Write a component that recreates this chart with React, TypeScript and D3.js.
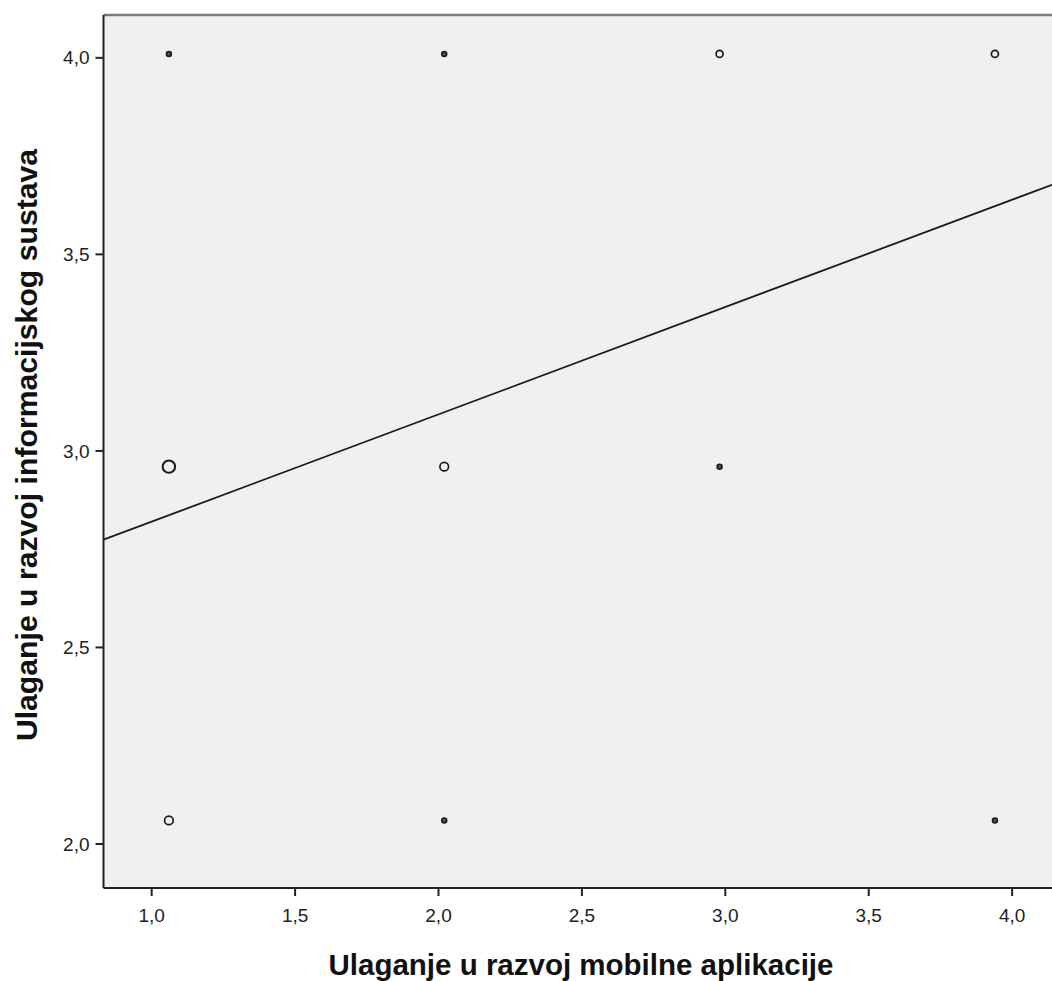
import React from "react";
import * as d3 from "d3";

const xTicks = [1.0, 1.5, 2.0, 2.5, 3.0, 3.5, 4.0];
const yTicks = [2.0, 2.5, 3.0, 3.5, 4.0];
const pointX = [1.06, 2.02, 2.98, 3.94, 1.06, 2.02, 2.98, 1.06, 2.02, 3.94];
const pointY = [4.01, 4.01, 4.01, 4.01, 2.96, 2.96, 2.96, 2.06, 2.06, 2.06];
const pointCount = [1, 1, 2, 2, 6, 3, 1, 3, 1, 1];
const fitIntercept = 2.547;
const fitSlope = 0.273;
const xTitle = "Ulaganje u razvoj mobilne aplikacije";
const yTitle = "Ulaganje u razvoj informacijskog sustava";

const W = 1052;
const H = 981;
const left = 103.5;
const right = 1052;
const top = 15;
const bottom = 888;

export default function App() {
  const x = d3.scaleLinear().domain([0.832, 4.139]).range([left, right]);
  const y = d3.scaleLinear().domain([1.888, 4.109]).range([bottom, top]);
  const r = d3.scaleSqrt().domain([1, 6]).range([2.4, 6.2]);
  const fmt = (v: number) => v.toFixed(1).replace(".", ",");
  const lineGen = d3.line<number>().x((d) => x(d)).y((d) => y(fitIntercept + fitSlope * d));
  const font = "'Liberation Sans', Arial, sans-serif";
  return (
    <svg width={W} height={H} style={{ position: "absolute", left: 0, top: 0, background: "#fff" }}>
      <rect x={left} y={top} width={right - left} height={bottom - top} fill="#f0f0f0" />
      <line x1={left} x2={right} y1={top} y2={top} stroke="#7a7a7a" strokeWidth={2.5} />
      <path d={lineGen(x.domain()) || ""} stroke="#1a1a1a" strokeWidth={1.8} fill="none" />
      {pointX.map((px, i) => {
        const rad = r(pointCount[i]);
        return (
          <circle
            key={i}
            cx={x(px)}
            cy={y(pointY[i])}
            r={rad}
            fill={pointCount[i] === 1 ? "#555" : "none"}
            stroke="#1a1a1a"
            strokeWidth={pointCount[i] === 6 ? 2 : 1.7}
          />
        );
      })}
      <line x1={left} x2={left} y1={top} y2={bottom} stroke="#222" strokeWidth={2} />
      <line x1={left} x2={right} y1={bottom} y2={bottom} stroke="#222" strokeWidth={2} />
      {yTicks.map((t) => (
        <g key={"y" + t}>
          <line x1={left - 8} x2={left} y1={y(t)} y2={y(t)} stroke="#222" strokeWidth={2} />
          <text x={left - 14} y={y(t)} dy="0.35em" textAnchor="end" fontFamily={font} fontSize={19} fill="#222">
            {fmt(t)}
          </text>
        </g>
      ))}
      {xTicks.map((t) => (
        <g key={"x" + t}>
          <line x1={x(t)} x2={x(t)} y1={bottom} y2={bottom + 8} stroke="#222" strokeWidth={2} />
          <text x={x(t)} y={bottom + 34} textAnchor="middle" fontFamily={font} fontSize={19} fill="#222">
            {fmt(t)}
          </text>
        </g>
      ))}
      <text x={581} y={975} textAnchor="middle" fontFamily={font} fontWeight="bold" fontSize={29.5} fill="#111">
        {xTitle}
      </text>
      <text
        transform={`translate(37, 445) rotate(-90)`}
        textAnchor="middle"
        fontFamily={font}
        fontWeight="bold"
        fontSize={30.2}
        fill="#111"
      >
        {yTitle}
      </text>
    </svg>
  );
}
